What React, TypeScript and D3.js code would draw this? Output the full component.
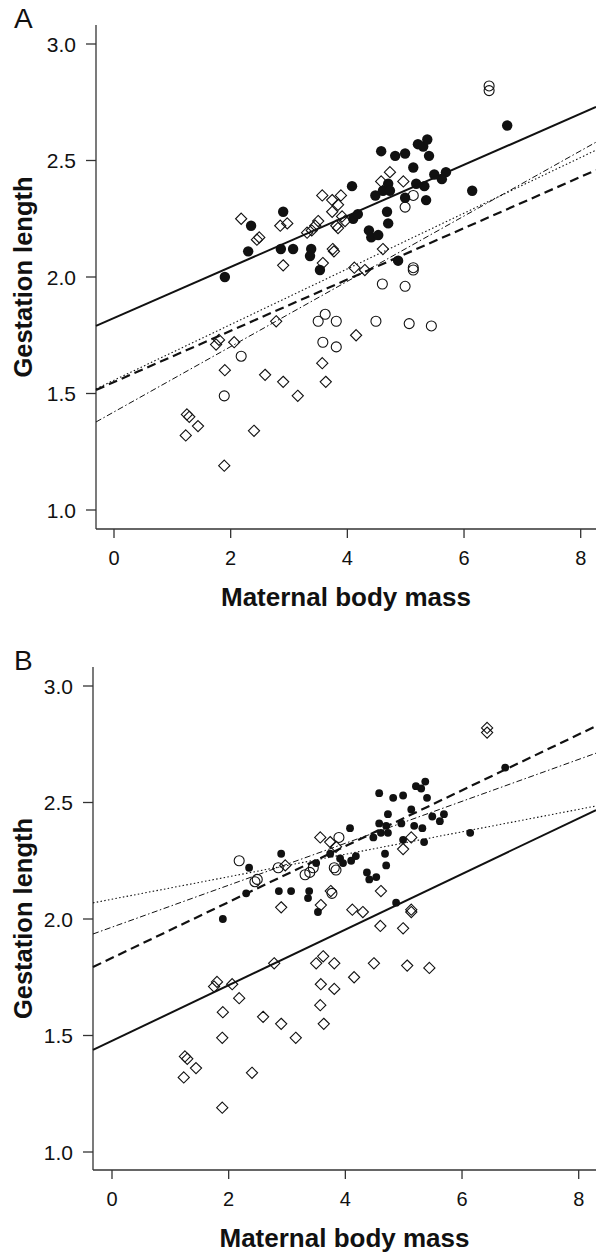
import React from 'react';
import * as d3 from 'd3';

// log maternal body mass vs log gestation length, same species in both panels
const mass = [
  1.90, 2.35, 2.30, 2.90, 2.86, 3.07, 3.38, 3.36, 3.53, 4.08,
  4.10, 4.18, 4.37, 4.41, 4.53, 4.68, 4.70, 4.87, 4.58, 4.82,
  4.99, 4.48, 4.61, 4.70, 4.73, 4.99, 5.21, 5.30, 5.37, 5.40,
  5.13, 5.49, 5.69, 5.62, 5.18, 5.32, 5.35, 6.74, 6.14,
  2.90, 2.78, 1.75, 1.80, 2.06, 1.90, 2.59, 2.90, 3.15, 1.25,
  1.29, 1.44, 1.23, 2.40, 1.89, 4.15, 3.57, 3.63, 4.12, 4.30,
  3.58, 3.75, 3.77, 4.61, 2.18, 2.45, 2.49, 2.85, 2.97, 3.31,
  3.39, 3.45, 3.50, 3.57, 3.74, 3.84, 3.89, 3.74, 3.81, 3.84,
  3.91, 3.96, 4.58, 4.73, 4.96,
  2.18, 1.89, 3.62, 3.50, 3.81, 3.58, 3.81, 4.49, 5.06, 5.44,
  4.60, 4.99, 5.13, 5.13, 4.99, 5.13, 6.43, 6.43,
];

const gestation = [
  2.00, 2.22, 2.11, 2.28, 2.12, 2.12, 2.12, 2.09, 2.03, 2.39,
  2.25, 2.27, 2.20, 2.17, 2.18, 2.28, 2.23, 2.07, 2.54, 2.52,
  2.53, 2.35, 2.37, 2.40, 2.37, 2.34, 2.57, 2.56, 2.59, 2.52,
  2.47, 2.44, 2.45, 2.42, 2.40, 2.39, 2.33, 2.65, 2.37,
  2.05, 1.81, 1.71, 1.73, 1.72, 1.60, 1.58, 1.55, 1.49, 1.41,
  1.40, 1.36, 1.32, 1.34, 1.19, 1.75, 1.63, 1.55, 2.04, 2.03,
  2.06, 2.12, 2.11, 2.12, 2.25, 2.16, 2.17, 2.22, 2.23, 2.19,
  2.20, 2.22, 2.24, 2.35, 2.33, 2.31, 2.35, 2.28, 2.22, 2.21,
  2.26, 2.24, 2.41, 2.45, 2.41,
  1.66, 1.49, 1.84, 1.81, 1.81, 1.72, 1.70, 1.81, 1.80, 1.79,
  1.97, 1.96, 2.04, 2.03, 2.30, 2.35, 2.82, 2.80,
];

// F = filled circle, O = open circle, D = open diamond
const groupA = [
  ...'FFFFFFFFFFFFFFFFFFFFFFFFFFFFFFFFFFFFFFF',
  ...'DDDDDDDDDDDDDDDDDDDDDDDDDDDDDDDDDDDDDDDDDDDDD',
  ...'OOOOOOOOOOOOOOOOOO',
];

const groupB = [
  ...'FFFFFFFFFFFFFFFFFFFFFFFFFFFFFFFFFFFFFFF',
  ...'DDDDDDDDDDDDDDDDDDDDDDOD',
  ...'OOOODOOOFDDDOFOOFFFFF',
  ...'DDDDDDDDDDDDDDDDDD',
];

const lineKinds = ['solid', 'dashed', 'dotted', 'dashdot'];
const interceptA = [1.824, 1.549, 1.557, 1.421];
const slopeA = [0.1096, 0.1101, 0.1195, 0.1401];
const interceptB = [1.477, 1.833, 2.085, 1.965];
const slopeB = [0.1194, 0.1199, 0.0482, 0.090];

const xTicks = [0, 2, 4, 6, 8];
const yTicks = [1.0, 1.5, 2.0, 2.5, 3.0];

const FONT = '"Liberation Sans", Arial, Helvetica, sans-serif';
const INK = '#111';

const lineStyle: Record<string, { w: number; dash?: string }> = {
  solid: { w: 2 },
  dashed: { w: 2.2, dash: '9,5' },
  dotted: { w: 1.1, dash: '1.5,2.3' },
  dashdot: { w: 1, dash: '6,2.5,1.5,2.5' },
};

interface PanelProps {
  label: string;
  groups: string[];
  intercepts: number[];
  slopes: number[];
  x0: number; // pixel of mass = 0
  y1: number; // pixel of gestation = 1.0
  axisX: number;
  axisTop: number;
  axisBottom: number;
  filledR: number;
}

const Panel: React.FC<PanelProps> = ({
  label, groups, intercepts, slopes, x0, y1, axisX, axisTop, axisBottom, filledR,
}) => {
  const x = d3.scaleLinear().domain([0, 8]).range([x0, x0 + 466.7]);
  const y = d3.scaleLinear().domain([1, 3]).range([y1, y1 - 466]);
  const right = 596;
  const xMin = x.invert(axisX);
  const xMax = x.invert(right);

  const diamond = 'M0,-5.6L5.6,0L0,5.6L-5.6,0Z';

  return (
    <g>
      <text x={14} y={axisTop + 3} fontSize={28} fontFamily={FONT} fill={INK}>{label}</text>

      {/* axes */}
      <line x1={axisX} x2={axisX} y1={axisTop} y2={axisBottom} stroke="#333" strokeWidth={1.3} />
      <line x1={axisX} x2={right} y1={axisBottom} y2={axisBottom} stroke="#333" strokeWidth={1.3} />
      {yTicks.map(t => (
        <g key={'y' + t}>
          <line x1={axisX - 10} x2={axisX} y1={y(t)} y2={y(t)} stroke="#333" strokeWidth={1.3} />
          <text x={axisX - 20} y={y(t)} dy="0.36em" textAnchor="end" fontSize={21}
            fontFamily={FONT} fill={INK}>{t.toFixed(1)}</text>
        </g>
      ))}
      {xTicks.map(t => (
        <g key={'x' + t}>
          <line x1={x(t)} x2={x(t)} y1={axisBottom} y2={axisBottom + 9} stroke="#333" strokeWidth={1.3} />
          <text x={x(t)} y={axisBottom + 36} textAnchor="middle" fontSize={20}
            fontFamily={FONT} fill={INK}>{t}</text>
        </g>
      ))}
      <text x={(axisX + right) / 2} y={axisBottom + 77} textAnchor="middle" fontSize={26}
        fontWeight="bold" fontFamily={FONT} fill={INK}>Maternal body mass</text>
      <text transform={`translate(32,${(axisTop + axisBottom) / 2}) rotate(-90)`} textAnchor="middle"
        fontSize={25.5} fontWeight="bold" fontFamily={FONT} fill={INK}>Gestation length</text>

      {/* points */}
      {mass.map((m, i) => {
        const cx = x(m);
        const cy = y(gestation[i]);
        const g = groups[i];
        if (g === 'F') return <circle key={i} cx={cx} cy={cy} r={filledR} fill={INK} />;
        if (g === 'O') return <circle key={i} cx={cx} cy={cy} r={5} fill="none" stroke={INK} strokeWidth={1.1} />;
        return <path key={i} d={diamond} transform={`translate(${cx},${cy})`} fill="none" stroke={INK} strokeWidth={1.1} />;
      })}

      {/* fitted lines */}
      {lineKinds.map((k, i) => {
        const f = (v: number) => intercepts[i] + slopes[i] * v;
        const path = d3.line<number>().x(d => x(d)).y(d => y(f(d)))([xMin, xMax]) || '';
        return (
          <path key={k} d={path} fill="none" stroke={INK} strokeWidth={lineStyle[k].w}
            strokeDasharray={lineStyle[k].dash} />
        );
      })}
    </g>
  );
};

export default function App() {
  return (
    <svg width={596} height={1252} style={{ position: 'absolute', left: 0, top: 0, background: '#fff' }}>
      <Panel label="A" groups={groupA} intercepts={interceptA} slopes={slopeA}
        x0={114} y1={510} axisX={96} axisTop={25} axisBottom={529} filledR={5.2} />
      <Panel label="B" groups={groupB} intercepts={interceptB} slopes={slopeB}
        x0={112} y1={1152} axisX={93} axisTop={667} axisBottom={1170} filledR={3.9} />
    </svg>
  );
}
